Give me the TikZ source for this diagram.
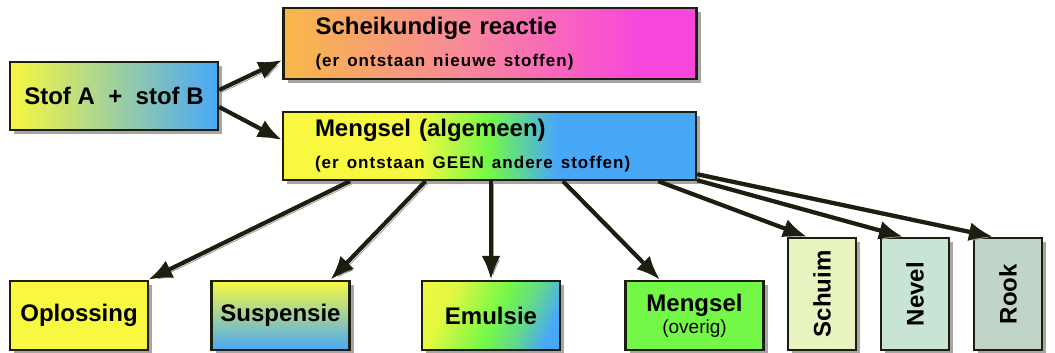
\documentclass[tikz,border=0pt]{standalone}
\usepackage{fontspec}
\setmainfont{Liberation Sans}
\usetikzlibrary{arrows.meta,shadows}

\definecolor{edge}{HTML}{1E1E10}
\definecolor{geel}{HTML}{F8F840}
\definecolor{blauw}{HTML}{48A8F8}
\definecolor{groen}{HTML}{74F848}
\definecolor{oranje}{HTML}{F8B848}
\definecolor{roze}{HTML}{F8889A}
\definecolor{paars}{HTML}{F848DC}
\definecolor{schuimkl}{HTML}{E8F4C0}
\definecolor{nevelkl}{HTML}{C8E4D4}
\definecolor{rookkl}{HTML}{C0D4C8}

\pgfdeclarehorizontalshading{reactieshade}{100bp}{color(0bp)=(oranje); color(25bp)=(oranje); color(47bp)=(roze); color(68bp)=(paars); color(100bp)=(paars)}
\pgfdeclarehorizontalshading{mengselshade}{100bp}{color(0bp)=(geel); color(25bp)=(geel); color(41bp)=(geel); color(50bp)=(groen); color(58bp)=(blauw); color(100bp)=(blauw)}
\pgfdeclarehorizontalshading{emulsieshade}{100bp}{color(0bp)=(geel); color(30bp)=(geel!85!groen); color(52bp)=(groen); color(64bp)=(groen!60!blauw); color(76bp)=(blauw); color(100bp)=(blauw)}

\newcommand{\klein}{\fontsize{8.5}{14}\selectfont\addfontfeatures{LetterSpace=6}}

\begin{document}
\begin{tikzpicture}[x=0.5pt, y=-0.5pt,
    box/.style={draw=edge, line width=1.2pt, inner sep=0pt, font=\bfseries\fontsize{12}{14}\selectfont,
      drop shadow={shadow xshift=2pt, shadow yshift=-2pt, fill=black, opacity=0.35}},
    breed/.style={box, minimum height=34pt, align=left, text width=174.5pt, inner xsep=16pt},
    onder/.style={box, minimum width=69pt, minimum height=34.5pt, align=center},
    staand/.style={box, minimum width=34pt, minimum height=56pt},
    arr/.style={-{Latex[length=12pt,width=9.5pt]}, line width=2.1pt, draw=edge,
      preaction={draw=black!40, transform canvas={shift={(1.2pt,-1.2pt)}}}}]
  \useasboundingbox (0,0) rectangle (1055,353);

  % bovenste rij
  \node[box, minimum width=104pt, minimum height=34pt, left color=geel, right color=blauw] (stof) at (114,96) {Stof A \ + \ stof B};
  \node[breed, shading=reactieshade, minimum height=35.5pt] (reactie) at (490,43.5)
    {Scheikundige reactie\\[2pt]{\klein (er ontstaan nieuwe stoffen)}};
  \node[breed, shading=mengselshade] (mengsel) at (489.5,146)
    {Mengsel (algemeen)\\[2pt]{\klein (er ontstaan GEEN andere stoffen)}};

  % onderste rij
  \node[onder, fill=geel] (oplossing) at (79,315.5) {Oplossing};
  \node[onder, top color=geel, bottom color=blauw] (suspensie) at (280.5,315.5) {Suspensie};
  \node[onder, shading=emulsieshade, shading angle=-25] (emulsie) at (491,315.5) {Emulsie};
  \node[onder, fill=groen] (overig) at (694.5,315.5) {Mengsel\\[-3pt]{\mdseries\fontsize{9.5}{10}\selectfont(overig)}};
  \node[staand, fill=schuimkl] (schuim) at (822,294) {\rotatebox{90}{Schuim}};
  \node[staand, fill=nevelkl] (nevel) at (915,294) {\rotatebox{90}{Nevel}};
  \node[staand, fill=rookkl] (rook) at (1008,294) {\rotatebox{90}{Rook}};

  % pijlen
  \draw[arr] ([yshift=3pt]stof.east) -- ([yshift=-8.25pt]reactie.west);
  \draw[arr] ([yshift=-5.5pt]stof.east) -- ([yshift=3pt]mengsel.west);
  \draw[arr] ([xshift=-69.75pt]mengsel.south) -- ([xshift=-0.5pt]oplossing.north east);
  \draw[arr] ([xshift=-32pt]mengsel.south) -- ([xshift=25pt]suspensie.north);
  \draw[arr] (emulsie.north |- mengsel.south) -- (emulsie.north);
  \draw[arr] ([xshift=36.75pt]mengsel.south) -- ([xshift=-17.25pt]overig.north);
  \draw[arr] ([xshift=-19.5pt]mengsel.south east) -- ([xshift=-7.5pt]schuim.north);
  \draw[arr] ([yshift=0.5pt]mengsel.south east) -- ([xshift=-6pt]nevel.north);
  \draw[arr] ([yshift=3.5pt]mengsel.south east) -- ([xshift=-7.5pt]rook.north);
\end{tikzpicture}
\end{document}
